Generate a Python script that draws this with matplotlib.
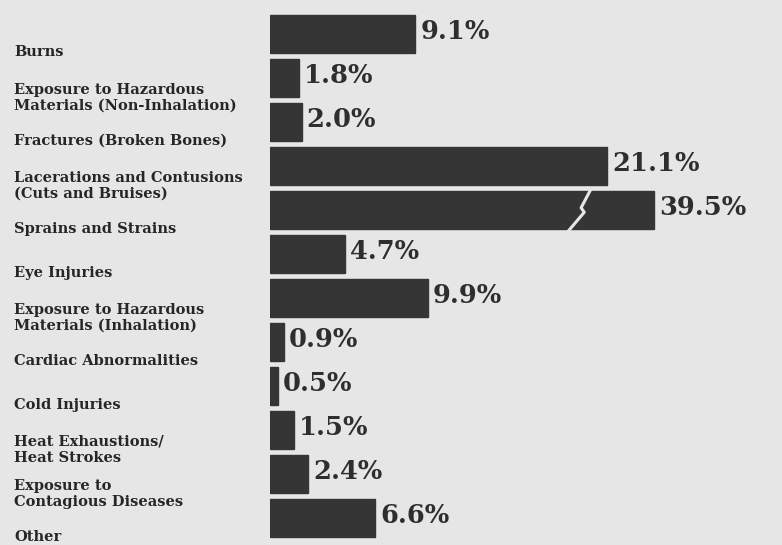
import numpy as np
import matplotlib
matplotlib.use("Agg")
import matplotlib.pyplot as plt
from matplotlib.transforms import ScaledTranslation

# ---- data ----
categories = [
    "Burns",
    "Exposure to Hazardous\nMaterials (Non-Inhalation)",
    "Fractures (Broken Bones)",
    "Lacerations and Contusions\n(Cuts and Bruises)",
    "Sprains and Strains",
    "Eye Injuries",
    "Exposure to Hazardous\nMaterials (Inhalation)",
    "Cardiac Abnormalities",
    "Cold Injuries",
    "Heat Exhaustions/\nHeat Strokes",
    "Exposure to\nContagious Diseases",
    "Other",
]
values = [9.1, 1.8, 2.0, 21.1, 39.5, 4.7, 9.9, 0.9, 0.5, 1.5, 2.4, 6.6]
value_labels = ["9.1%", "1.8%", "2.0%", "21.1%", "39.5%", "4.7%",
                "9.9%", "0.9%", "0.5%", "1.5%", "2.4%", "6.6%"]

# ---- style ----
BG = "#e6e6e6"
BAR = "#353535"
CAP = 24.0          # bars longer than this are drawn broken
BREAK_AT = 19.3

fig = plt.figure(figsize=(7.82, 5.45), dpi=100, facecolor=BG)
ax = fig.add_axes([0.345, 0.009, 0.614, 0.969])
ax.set_facecolor(BG)

y = np.arange(len(values))
shown = np.minimum(values, CAP)
ax.barh(y, shown, height=0.86, color=BAR, edgecolor=BAR)

ax.set_xlim(0, 30)
ax.set_ylim(len(values) - 0.5, -0.5)

# value labels
for yi, v, s in zip(y, shown, value_labels):
    ax.text(v + 0.3, yi - 0.05, s, va="center", ha="left",
            fontsize=18.5, family="DejaVu Serif", fontweight="bold",
            color="#2e2e2e", clip_on=False)

# break mark on capped bars
for yi, v in zip(y, values):
    if v > CAP:
        h = 0.5
        xs = [BREAK_AT + 0.8, BREAK_AT + 0.15, BREAK_AT + 0.35, BREAK_AT - 0.7]
        ys = [yi - h, yi - 0.05, yi + 0.05, yi + h]
        ax.plot(xs, ys, color=BG, lw=2.2, solid_capstyle="butt")

# category labels, left aligned at the left of the figure, sitting below bars
ax.set_yticks(y, categories)
ax.tick_params(axis="y", length=0, pad=184)
ax.tick_params(axis="x", bottom=False, labelbottom=False)
offset = ScaledTranslation(0, -17 / 100, fig.dpi_scale_trans)
for lab in ax.get_yticklabels():
    lab.set_ha("left")
    lab.set_family("DejaVu Serif")
    lab.set_fontweight("bold")
    lab.set_fontsize(10.5)
    lab.set_color("#262626")
    lab.set_linespacing(1.2)
    lab.set_transform(lab.get_transform() + offset)

for sp in ax.spines.values():
    sp.set_visible(False)

fig.savefig("out.png", dpi=100, facecolor=BG)
